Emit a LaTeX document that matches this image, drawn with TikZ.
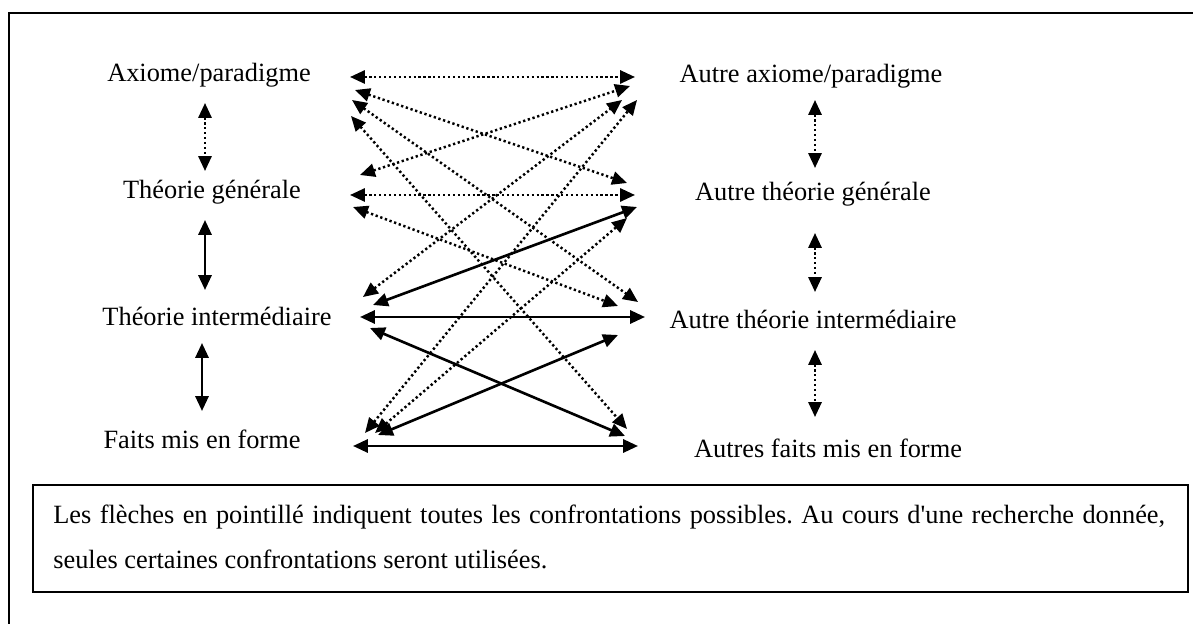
\documentclass[tikz,border=0pt]{standalone}
\usepackage{fontspec}
\setmainfont{Liberation Serif}
\usetikzlibrary{arrows.meta}

\begin{document}
\begin{tikzpicture}[x=0.02cm,y=-0.02cm,
  font=\fontsize{15}{18}\selectfont,
  >={Triangle[length=8.5pt,width=7.5pt]},
  conf/.style={<->,line width=1.4pt,dash pattern=on 1.3pt off 1.5pt},
  link/.style={<->,line width=1.5pt},
  level/.style={inner sep=0pt}]
  \useasboundingbox (0,0) rectangle (1193,624);
  \begin{scope}
    \clip (0,0) rectangle (1193,624);
    \draw[line width=1.1pt] (9,13) rectangle (1220,660);
  \end{scope}

  % levels of the two theories
  \node[level] (axiome) at (209,75) {Axiome/paradigme};
  \node[level] (tgen) at (212,192) {Théorie générale};
  \node[level] (tint) at (217,316) {Théorie intermédiaire};
  \node[level] (faits) at (202,439) {Faits mis en forme};
  \node[level] (aaxiome) at (811,76) {Autre axiome/paradigme};
  \node[level] (atgen) at (813,194) {Autre théorie générale};
  \node[level] (atint) at (813,319) {Autre théorie intermédiaire};
  \node[level] (afaits) at (828,448) {Autres faits mis en forme};

  % ends of the confrontations
  \coordinate (A-h) at (350,77);   \coordinate (AA-h) at (635,77);
  \coordinate (A-atg) at (355,90); \coordinate (AA-tg) at (630,86);
  \coordinate (A-ati) at (352,100);\coordinate (AA-ti) at (622,100);
  \coordinate (A-af) at (351,116); \coordinate (AA-f) at (637,100);
  \coordinate (TG-aa) at (360,175);\coordinate (ATG-a) at (627,183);
  \coordinate (TG-h) at (350,195); \coordinate (ATG-h) at (635,195);
  \coordinate (TG-ati) at (353,207);\coordinate (ATG-ti) at (637,207);
  \coordinate (TI-aa) at (363,297);\coordinate (ATG-f) at (627,218);
  \coordinate (TI-atg) at (373,305);\coordinate (ATI-a) at (638,302);
  \coordinate (TI-h) at (360,317); \coordinate (ATI-tg) at (618,306);
  \coordinate (TI-af) at (370,328);\coordinate (ATI-h) at (645,317);
  \coordinate (F-aa) at (365,433); \coordinate (ATI-f) at (618,335);
  \coordinate (F-atg) at (375,433);\coordinate (AF-a) at (627,429);
  \coordinate (F-ati) at (378,435);\coordinate (AF-ti) at (625,436);
  \coordinate (F-h) at (353,446);  \coordinate (AF-h) at (638,446);

  \draw[conf] (A-h) -- (AA-h);
  \draw[conf] (A-atg) -- (ATG-a);
  \draw[conf] (A-ati) -- (ATI-a);
  \draw[conf] (A-af) -- (AF-a);
  \draw[conf] (TG-aa) -- (AA-tg);
  \draw[conf] (TG-h) -- (ATG-h);
  \draw[conf] (TG-ati) -- (ATI-tg);
  \draw[conf] (TI-aa) -- (AA-ti);
  \draw[conf] (F-aa) -- (AA-f);
  \draw[conf] (F-atg) -- (ATG-f);
  \draw[link] (TI-atg) -- (ATG-ti);
  \draw[link] (TI-h) -- (ATI-h);
  \draw[link] (TI-af) -- (AF-ti);
  \draw[link] (F-ati) -- (ATI-f);
  \draw[link] (F-h) -- (AF-h);

  % inside each theory
  \coordinate (axiome-s) at (205,103); \coordinate (tgen-n) at (205,171);
  \coordinate (tgen-s) at (205,220);   \coordinate (tint-n) at (205,290);
  \coordinate (tint-s) at (202,343);   \coordinate (faits-n) at (202,411);
  \coordinate (aaxiome-s) at (815,100);\coordinate (atgen-n) at (815,168);
  \coordinate (atgen-s) at (815,233);  \coordinate (atint-n) at (815,292);
  \coordinate (atint-s) at (815,350);  \coordinate (afaits-n) at (815,417);
  \draw[conf] (axiome-s) -- (tgen-n);
  \draw[link] (tgen-s) -- (tint-n);
  \draw[link] (tint-s) -- (faits-n);
  \draw[conf] (aaxiome-s) -- (atgen-n);
  \draw[conf] (atgen-s) -- (atint-n);
  \draw[conf] (atint-s) -- (afaits-n);

  \draw[line width=0.8pt] (33,485) rectangle (1188,592);
  \node[level,anchor=base west,text width=22.24cm,align=justify,
    font=\fontsize{15}{26}\selectfont\frenchspacing] (note) at (53,523)
    {Les flèches en pointillé indiquent toutes les confrontations possibles. Au cours d\textquotesingle une recherche donnée, seules certaines confrontations seront utilisées.};
\end{tikzpicture}
\end{document}
